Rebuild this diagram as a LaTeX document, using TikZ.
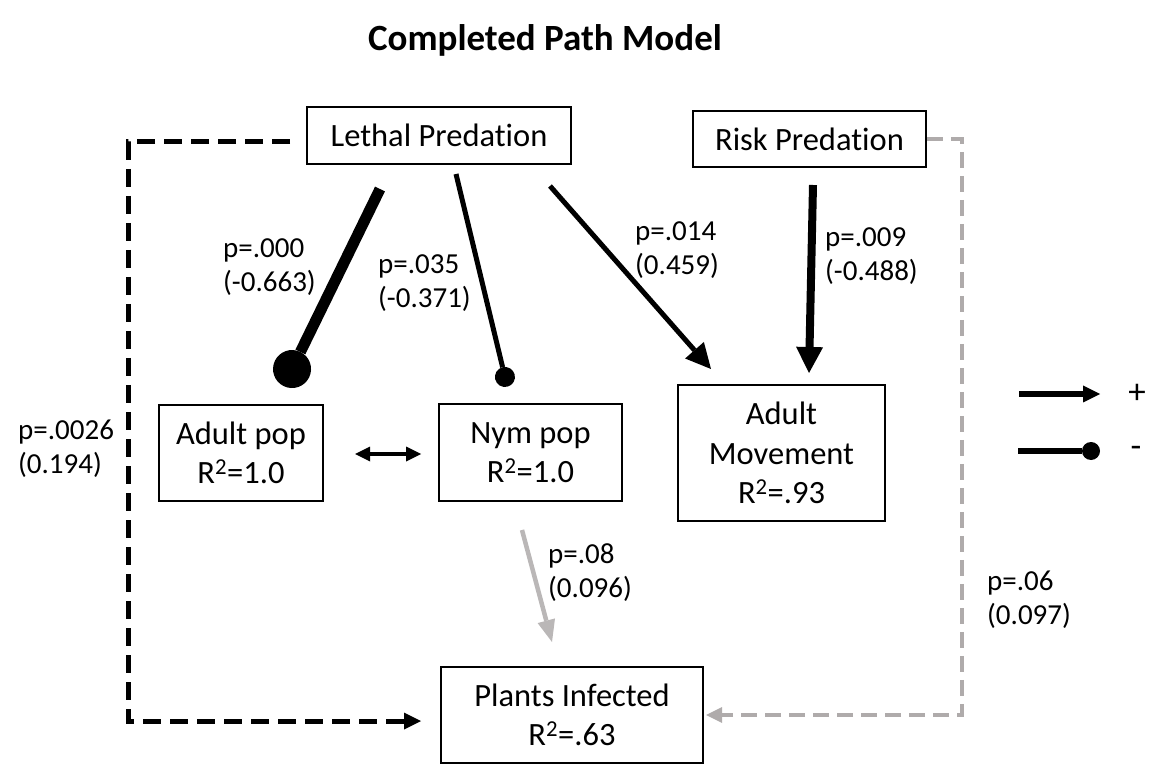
\documentclass[tikz,border=0pt]{standalone}
\usepackage{fontspec}
\setmainfont{Carlito}[Ligatures=CommonOff]
\usetikzlibrary{arrows.meta}
\definecolor{lgray}{HTML}{AFABAB}
\definecolor{mgray}{HTML}{BAB7B7}
\begin{document}
\begin{tikzpicture}[x=1pt,y=-1pt,
  box/.style={draw, line width=1.8pt, inner sep=0pt, align=center,
    font=\fontsize{32.5}{39.5}\selectfont},
  lbl/.style={anchor=west, align=left, inner sep=0pt,
    font=\fontsize{29}{34}\selectfont},
  legtxt/.style={font=\fontsize{35}{38}\selectfont, inner sep=0pt},
  dotend/.style={-{Circle[length=#1,width=#1,line width=0pt]}},
  triend/.style={-{Triangle[length=#1,width=#1,line width=0pt]}}
]
\useasboundingbox (0,0) rectangle (1170,775);

% title
\node[font=\fontsize{37}{42}\selectfont\bfseries] (title) at (545,40) {Completed Path Model};

% boxes
\node[box, minimum width=264, minimum height=57] (lethal) at (439,135.5) {Lethal Predation};
\node[box, minimum width=233, minimum height=56] (risk) at (809.5,139) {Risk Predation};
\node[box, minimum width=164, minimum height=96] (adultpop) at (241,453) {Adult pop\\R\textsuperscript{2}=1.0};
\node[box, minimum width=183, minimum height=97] (nympop) at (530.5,452.5) {Nym pop\\R\textsuperscript{2}=1.0};
\node[box, minimum width=207, minimum height=136] (adultmov) at (781.5,453) {Adult\\Movement\\R\textsuperscript{2}=.93};
\node[box, minimum width=262, minimum height=96] (plants) at (572,715) {Plants Infected\\R\textsuperscript{2}=.63};

% connector end points
\coordinate (e1s) at (380,189);   \coordinate (e1e) at (283.7,386.1);
\coordinate (e2s) at (456,174);   \coordinate (e2e) at (507.3,386.7);
\coordinate (e3s) at (550,186);   \coordinate (e3e) at (711,369);
\coordinate (e4s) at (813,185);   \coordinate (e4e) at (809,373);
\coordinate (e5s) at (355,454);   \coordinate (e5e) at (421,454);
\coordinate (e6s) at (522,530);   \coordinate (e6e) at (552,642);
\coordinate (e7s) at (290,142);   \coordinate (e7a) at (128,142);
\coordinate (e7b) at (128,721);   \coordinate (e7e) at (421,721);
\coordinate (e8a) at (962,139);   \coordinate (e8b) at (962,715);
\coordinate (e8e) at (706,715);

% connectors
\draw[line width=11pt, dotend=38pt] (e1s) -- (e1e);
\draw[line width=5pt, dotend=20pt] (e2s) -- (e2e);
\draw[line width=5pt, triend=25pt] (e3s) -- (e3e);
\draw[line width=8pt, -{Triangle[length=26pt,width=27pt,line width=0pt]}] (e4s) -- (e4e);
\draw[line width=4pt, {Triangle[length=15pt,width=15pt,line width=0pt]}-{Triangle[length=15pt,width=15pt,line width=0pt]}] (e5s) -- (e5e);
\draw[mgray, line width=4.5pt, -{Triangle[length=22pt,width=18pt,line width=0pt]}] (e6s) -- (e6e);
\draw[line width=5pt, dash pattern=on 18pt off 9pt, triend=17pt] (e7s) -- (e7a) -- (e7b) -- (e7e);
\draw[lgray, line width=4pt, dash pattern=on 16pt off 8pt, triend=16pt] (risk.east |- e8a) -- (e8a) -- (e8b) -- (e8e);

% labels
\node[lbl] (l1) at (223,267) {p=.000\\(-0.663)};
\node[lbl] (l2) at (378,283) {p=.035\\(-0.371)};
\node[lbl] (l3) at (635,250) {p=.014\\(0.459)};
\node[lbl] (l4) at (825,256) {p=.009\\(-0.488)};
\node[lbl] (l5) at (18,449) {p=.0026\\(0.194)};
\node[lbl] (l6) at (548,573) {p=.08\\(0.096)};
\node[lbl] (l7) at (987,600) {p=.06\\(0.097)};

% legend
\coordinate (g1s) at (1019,394); \coordinate (g1e) at (1100,394);
\coordinate (g2s) at (1018,451); \coordinate (g2e) at (1100,451);
\draw[line width=6pt, triend=17pt] (g1s) -- (g1e);
\draw[line width=6pt, dotend=18pt] (g2s) -- (g2e);
\node[legtxt] (plus) at (1137,394) {+};
\node[legtxt] (minus) at (1136,452) {-};
\end{tikzpicture}
\end{document}
